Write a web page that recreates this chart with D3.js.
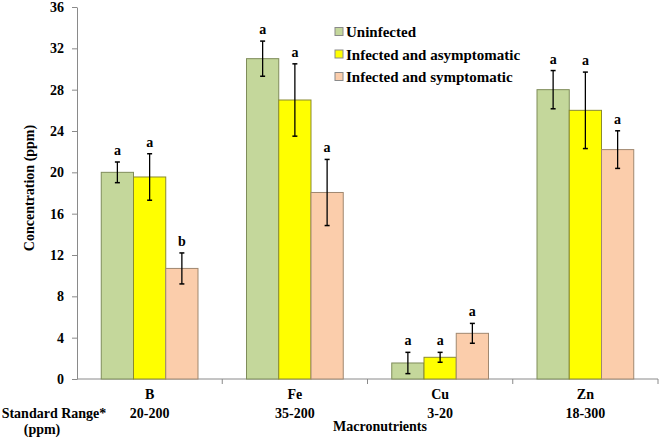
<!DOCTYPE html>
<html><head><meta charset="utf-8">
<script src="https://cdn.jsdelivr.net/npm/d3@7/dist/d3.min.js"></script>
<style>
body{margin:0;background:#fff;}
svg text{font-family:"Liberation Serif","Times New Roman",serif !important;font-weight:bold;fill:#000;}
</style></head>
<body><svg id="c" width="661" height="438" font-family="Liberation Serif"></svg>
<script>
const categories = ["B","Fe","Cu","Zn"];
const standardRanges = ["20-200","35-200","3-20","18-300"];
const series = ["Uninfected","Infected and asymptomatic","Infected and symptomatic"];
const uninfected = [20.0, 31.0, 1.55, 28.0];
const asymptomatic = [19.55, 27.0, 2.1, 26.0];
const symptomatic = [10.7, 18.05, 4.42, 22.2];
const errUninfected = [1.0, 1.7, 1.03, 1.85];
const errAsymptomatic = [2.25, 3.5, 0.48, 3.7];
const errSymptomatic = [1.5, 3.2, 0.96, 1.82];
const lettersUninfected = ["a","a","a","a"];
const lettersAsymptomatic = ["a","a","a","a"];
const lettersSymptomatic = ["b","a","a","a"];
const yTicks = [0,4,8,12,16,20,24,28,32,36];

const values = [uninfected, asymptomatic, symptomatic];
const errs = [errUninfected, errAsymptomatic, errSymptomatic];
const letters = [lettersUninfected, lettersAsymptomatic, lettersSymptomatic];
const fills = ["#c4d79b","#ffff00","#fbcdab"];
const strokes = ["#7f8c5a","#8a8a30","#a08870"];
const FONT = "'Liberation Serif', 'Times New Roman', serif";

const svg = d3.select("#c");
const x = d3.scaleBand().domain(categories).range([77, 658]);
const bw = x.bandwidth();
const xs = d3.scaleBand().domain(series).range([bw*0.167, bw*0.833]);
const y = d3.scaleLinear().domain([0,36]).range([379,7]);

// y axis
const ya = svg.append("g").attr("transform","translate(77,0)")
  .call(d3.axisLeft(y).tickValues(yTicks).tickSize(5).tickPadding(8).tickSizeOuter(0));
ya.attr("font-family", null);
ya.selectAll("path,line").attr("stroke","#8a8a8a");
ya.selectAll("text").style("font-size","14px");

// x axis line and boundary ticks
svg.append("line").attr("x1",77).attr("x2",658).attr("y1",y(0)).attr("y2",y(0)).attr("stroke","#8a8a8a");
svg.selectAll(".xt").data(categories).enter().append("line")
  .attr("x1",d=>x(d)+bw).attr("x2",d=>x(d)+bw).attr("y1",y(0)).attr("y2",y(0)+5).attr("stroke","#8a8a8a");

// bars
series.forEach((s,si)=>{
  const g = svg.append("g");
  g.selectAll("rect").data(categories).enter().append("rect")
    .attr("x",(d)=>x(d)+xs(s)).attr("width",xs.bandwidth())
    .attr("y",(d,i)=>y(values[si][i])).attr("height",(d,i)=>y(0)-y(values[si][i]))
    .attr("fill",fills[si]).attr("stroke",strokes[si]).attr("stroke-width",1);
  categories.forEach((c,i)=>{
    const cx = x(c)+xs(s)+xs.bandwidth()/2;
    const v = values[si][i], e = errs[si][i];
    g.append("line").attr("x1",cx).attr("x2",cx).attr("y1",y(v+e)).attr("y2",y(v-e)).attr("stroke","#000").attr("stroke-width",1.3);
    [v+e, v-e].forEach(t=>g.append("line").attr("x1",cx-2.5).attr("x2",cx+2.5).attr("y1",y(t)).attr("y2",y(t)).attr("stroke","#000").attr("stroke-width",1.5));
    g.append("text").attr("x",cx).attr("y",y(v+e)-7).attr("text-anchor","middle")
      .style("font-size","14px").text(letters[si][i]);
  });
});

// category labels
svg.selectAll(".cl").data(categories).enter().append("text")
  .attr("x",d=>x(d)+bw/2).attr("y",399).attr("text-anchor","middle").style("font-size","14px").text(d=>d);
svg.selectAll(".sr").data(standardRanges).enter().append("text")
  .attr("x",(d,i)=>x(categories[i])+bw/2).attr("y",418).attr("text-anchor","middle").style("font-size","14px").text(d=>d);
svg.append("text").attr("x",54).attr("y",418).attr("text-anchor","middle").style("font-size","14px").text("Standard Range*");
svg.append("text").attr("x",42).attr("y",434).attr("text-anchor","middle").style("font-size","14px").text("(ppm)");
svg.append("text").attr("x",380).attr("y",431).attr("text-anchor","middle").style("font-size","14px").text("Macronutrients");

// y title
svg.append("text").attr("transform","translate(34,188) rotate(-90)").attr("text-anchor","middle")
  .style("font-size","14px").text("Concentration (ppm)");

// legend
const lg = svg.append("g");
series.forEach((s,i)=>{
  const cy = 31.5 + i*22.5;
  lg.append("rect").attr("x",335).attr("y",cy-4).attr("width",8).attr("height",8)
    .attr("fill",fills[i]).attr("stroke","#8a8a8a").attr("stroke-width",1);
  lg.append("text").attr("x",346).attr("y",cy+5.5).style("font-size","15px").text(s);
});

svg.selectAll("text").style("font-family", FONT).style("font-weight","bold");
</script></body></html>
